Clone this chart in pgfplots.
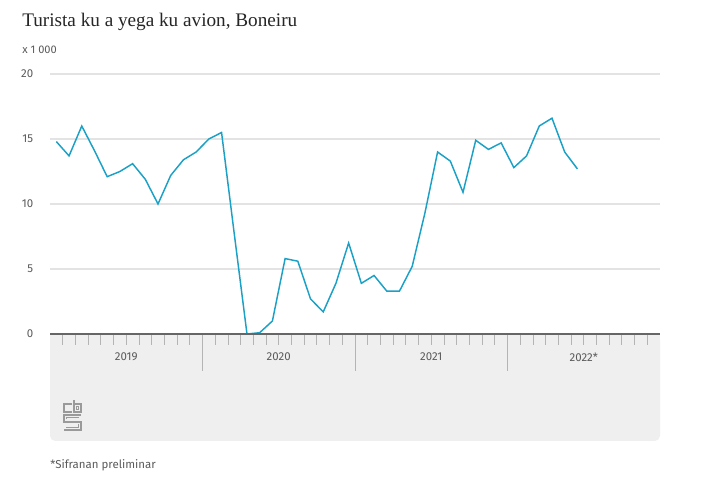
\documentclass[border=0pt]{standalone}
\usepackage{pgfplots}
\pgfplotsset{compat=1.18}
\usepackage{fontspec}
\setmainfont{Fira Sans}
\newfontfamily\titlefont{Liberation Serif}
\definecolor{cbsblue}{HTML}{1BA1C6}
\definecolor{boxgray}{HTML}{EFEFEF}
\definecolor{gridgray}{HTML}{E3E3E3}
\definecolor{labgray}{HTML}{5A5A5A}
\definecolor{tickgray}{HTML}{B4B4B4}
\definecolor{logogray}{HTML}{9A9A9A}

\begin{document}
\begin{tikzpicture}[x=0.75pt,y=0.75pt]
% page = 714 x 481 px, 1px = 0.75pt
\path[use as bounding box, fill=white] (0,0) rectangle (714,481);
\fill[boxgray, rounded corners=4pt] (50,40) rectangle (660,147);
\fill[boxgray] (50,120) rectangle (660,147);

\node[anchor=base west, inner sep=0pt, text=black!85,
      font=\titlefont\fontsize{14.4}{16}\selectfont] at (22,454) {Turista ku a yega ku avion, Boneiru};
\node[anchor=west, inner sep=0pt, text=labgray,
      font=\fontsize{8.3}{9}\selectfont] at (22,431) {x 1 000};
\node[anchor=west, inner sep=0pt, text=labgray,
      font=\fontsize{8.6}{9}\selectfont] at (50,16) {*Sifranan preliminar};

% cbs logo
\begin{scope}[logogray, line width=0.8pt]
  \draw (72,77) -- (64,77) -- (64,69) -- (72,69);
  \draw (74,81) -- (74,69) -- (81,69) -- (81,77) -- (74,77);
  \draw (76.5,74.5) rectangle (78.5,71.5);
  \draw (81,66) -- (64,66) -- (64,59) -- (81,59) -- (81,51) -- (64,51);
  \draw (79,63.5) -- (66.5,63.5) -- (66.5,61.5);
  \draw (66,53.5) -- (78.5,53.5) -- (78.5,56.5);
\end{scope}

\begin{axis}[
    at={(37.5pt,110.25pt)}, anchor=origin,
    scale only axis, width=457.5pt, height=195pt,
    xmin=0, xmax=48, ymin=0, ymax=20,
    clip=false,
    axis x line*=bottom, axis y line*=left,
    y axis line style={draw=none},
    x axis line style={draw=black!60, line width=1.5pt},
    xtick=\empty,
    ytick={0,5,10,15,20},
    ytick style={draw=none},
    ymajorgrids,
    major grid style={draw=gridgray, line width=0.8pt},
    /pgf/number format/assume math mode=true,
    yticklabel style={anchor=east, inner sep=0pt, xshift=-12.4pt,
                      font=\fontsize{8.6}{9}\selectfont, text=labgray},
]
\addplot[cbsblue, line width=1.1pt, mark=none] coordinates {
  (0.5,14.8) (1.5,13.7) (2.5,16.0) (3.5,14.1) (4.5,12.1) (5.5,12.5)
  (6.5,13.1) (7.5,11.9) (8.5,10.0) (9.5,12.2) (10.5,13.4) (11.5,14.0)
  (12.5,15.0) (13.5,15.5) (14.5,7.7) (15.5,0.0) (16.5,0.1) (17.5,1.0)
  (18.5,5.8) (19.5,5.6) (20.5,2.7) (21.5,1.7) (22.5,3.9) (23.5,7.0)
  (24.5,3.9) (25.5,4.5) (26.5,3.3) (27.5,3.3) (28.5,5.2) (29.5,9.3)
  (30.5,14.0) (31.5,13.3) (32.5,10.9) (33.5,14.9) (34.5,14.2) (35.5,14.7)
  (36.5,12.8) (37.5,13.7) (38.5,16.0) (39.5,16.6) (40.5,14.0) (41.5,12.7)
};
\pgfplotsinvokeforeach{1,...,47}{
  \draw[tickgray, line width=0.6pt] (axis cs:#1,0) ++(0,-1pt) -- ++(0,-7pt);
}
\pgfplotsinvokeforeach{12,24,36}{
  \draw[tickgray, line width=0.6pt] (axis cs:#1,0) ++(0,-1pt) -- ++(0,-27pt);
}
\draw[black!60, line width=1.5pt] (axis cs:0,0) -- (axis cs:48,0);
\node[text=labgray, font=\fontsize{8.6}{9}\selectfont, inner sep=0pt]
  at ([yshift=-17.25pt]axis cs:6,0) {2019};
\node[text=labgray, font=\fontsize{8.6}{9}\selectfont, inner sep=0pt]
  at ([yshift=-17.25pt]axis cs:18,0) {2020};
\node[text=labgray, font=\fontsize{8.6}{9}\selectfont, inner sep=0pt]
  at ([yshift=-17.25pt]axis cs:30,0) {2021};
\node[text=labgray, font=\fontsize{8.6}{9}\selectfont, inner sep=0pt]
  at ([yshift=-17.25pt]axis cs:42,0) {2022*};
\end{axis}
\end{tikzpicture}
\end{document}
